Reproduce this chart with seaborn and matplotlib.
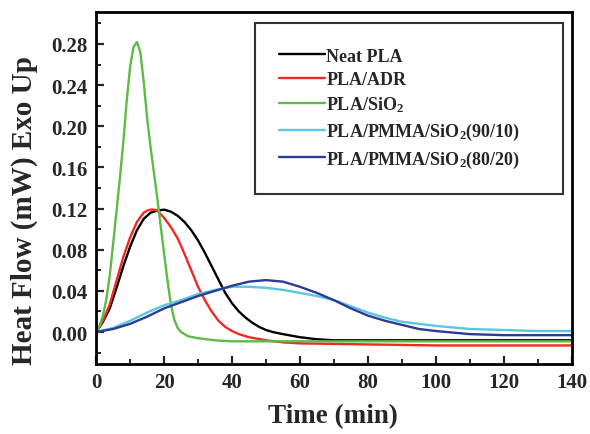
import numpy as np
import pandas as pd
import matplotlib
matplotlib.use("Agg")
import matplotlib.pyplot as plt
import seaborn as sns
from matplotlib.ticker import MultipleLocator

sns.set_theme(style="ticks")
plt.rcParams['font.family'] = ['Liberation Serif', 'DejaVu Serif']
plt.rcParams['font.weight'] = 'bold'
plt.rcParams['mathtext.fontset'] = 'custom'
plt.rcParams['mathtext.rm'] = 'Liberation Serif:bold'
plt.rcParams['mathtext.bf'] = 'Liberation Serif:bold'
plt.rcParams['mathtext.it'] = 'Liberation Serif:bold'
plt.rcParams['mathtext.default'] = 'bf'

labels = ['Neat PLA', 'PLA/ADR', r'PLA/SiO$_2$',
          r'PLA/PMMA/SiO$_2$(90/10)', r'PLA/PMMA/SiO$_2$(80/20)']
colors = ['#000000', '#ee2a24', '#5dbb46', '#5cc6df', '#2c3a98']

t_neat = [0, 2, 4, 6, 8, 10, 12, 14, 16, 18, 20, 22, 24, 26, 28, 30, 32, 34, 36, 38,
          40, 42, 44, 46, 48, 50, 52, 55, 60, 65, 70, 80, 100, 120, 140]
v_neat = [0, 0.010, 0.023, 0.043, 0.064, 0.083, 0.099, 0.110, 0.116, 0.118, 0.119,
          0.117, 0.113, 0.107, 0.099, 0.089, 0.077, 0.064, 0.051, 0.038, 0.028, 0.020,
          0.014, 0.009, 0.005, 0.002, 0.000, -0.002, -0.005, -0.007, -0.008, -0.008,
          -0.008, -0.008, -0.008]

t_adr = [0, 2, 4, 6, 8, 10, 12, 14, 15, 16, 17, 18, 20, 22, 24, 26, 28, 30, 32, 34,
         36, 38, 40, 42, 45, 50, 55, 60, 80, 100, 120, 140]
v_adr = [0, 0.011, 0.027, 0.050, 0.073, 0.092, 0.107, 0.116, 0.118, 0.119, 0.119,
         0.118, 0.111, 0.102, 0.091, 0.076, 0.060, 0.044, 0.031, 0.020, 0.011, 0.005,
         0.001, -0.002, -0.005, -0.008, -0.010, -0.011, -0.012, -0.013, -0.013, -0.013]

t_sio2 = [0, 1, 2, 3, 4, 5, 6, 7, 8, 9, 10, 11, 12, 13, 14, 15, 16, 17, 18, 19, 20,
          21, 22, 23, 24, 25, 27, 30, 35, 40, 60, 80, 100, 120, 140]
v_sio2 = [0, 0.006, 0.016, 0.032, 0.055, 0.086, 0.118, 0.150, 0.185, 0.225, 0.258,
          0.277, 0.282, 0.272, 0.243, 0.208, 0.180, 0.155, 0.130, 0.103, 0.076, 0.050,
          0.027, 0.012, 0.004, 0.000, -0.004, -0.006, -0.008, -0.009, -0.009, -0.009,
          -0.009, -0.009, -0.009]

t_9010 = [0, 5, 10, 15, 20, 25, 30, 35, 40, 45, 50, 55, 60, 65, 70, 75, 80, 85, 90,
          95, 100, 110, 120, 130, 140]
v_9010 = [0, 0.004, 0.011, 0.019, 0.026, 0.031, 0.037, 0.041, 0.044, 0.044, 0.043,
          0.041, 0.038, 0.035, 0.031, 0.025, 0.019, 0.014, 0.010, 0.008, 0.006, 0.003,
          0.002, 0.001, 0.001]

t_8020 = [0, 5, 10, 15, 20, 25, 30, 35, 40, 45, 50, 55, 60, 65, 70, 75, 80, 85, 90,
          95, 100, 110, 120, 130, 140]
v_8020 = [0, 0.003, 0.008, 0.015, 0.023, 0.029, 0.035, 0.040, 0.045, 0.049, 0.0505,
          0.049, 0.044, 0.038, 0.031, 0.023, 0.016, 0.011, 0.007, 0.003, 0.001, -0.002,
          -0.003, -0.003, -0.003]

series = [(t_neat, v_neat), (t_adr, v_adr), (t_sio2, v_sio2),
          (t_9010, v_9010), (t_8020, v_8020)]

fig = plt.figure(figsize=(5.9, 4.35), dpi=100)
ax = fig.add_axes([0.163, 0.161, 0.806, 0.809])

for (t, v), lab, c in zip(series, labels, colors):
    df = pd.DataFrame({'t': t, 'v': v})
    sns.lineplot(data=df, x='t', y='v', ax=ax, color=c, lw=1.7, label=lab, sort=False)

ax.set_xlim(0, 140)
ax.set_ylim(-0.031, 0.311)
ax.xaxis.set_major_locator(MultipleLocator(20))
ax.xaxis.set_minor_locator(MultipleLocator(10))
ax.yaxis.set_minor_locator(MultipleLocator(0.02))
ax.set_yticks([0, 0.04, 0.08, 0.12, 0.16, 0.20, 0.24, 0.28])
ax.set_yticklabels(['0.00', '0.04', '0.08', '0.12', '0.16', '0.20', '0.24', '0.28'])
ax.tick_params(which='major', direction='in', length=6, width=1.6, labelsize=15, pad=6)
ax.tick_params(which='minor', direction='in', length=3.5, width=1.4)
for lbl in ax.get_xticklabels() + ax.get_yticklabels():
    lbl.set_fontweight('bold')
for s in ax.spines.values():
    s.set_linewidth(2.0)
    s.set_color('black')

ax.set_xlabel('Time (min)', fontsize=19.5, fontweight='bold')
ax.set_ylabel('Heat Flow (mW) Exo Up', fontsize=21, fontweight='bold')
ax.xaxis.set_label_coords(0.497, -0.112)
ax.yaxis.set_label_coords(-0.122, 0.4375)

leg = ax.legend(loc='upper left', bbox_to_anchor=(0.334, 0.5, 0.647, 0.468),
                mode='expand', fontsize=13,
                frameon=True, fancybox=False, edgecolor='black', borderpad=1.35,
                handlelength=2.5, handletextpad=0.1, labelspacing=0.36,
                borderaxespad=0)
leg.get_frame().set_linewidth(1.5)
for txt in leg.get_texts():
    txt.set_fontweight('bold')

fig.savefig('out.png', dpi=100)
